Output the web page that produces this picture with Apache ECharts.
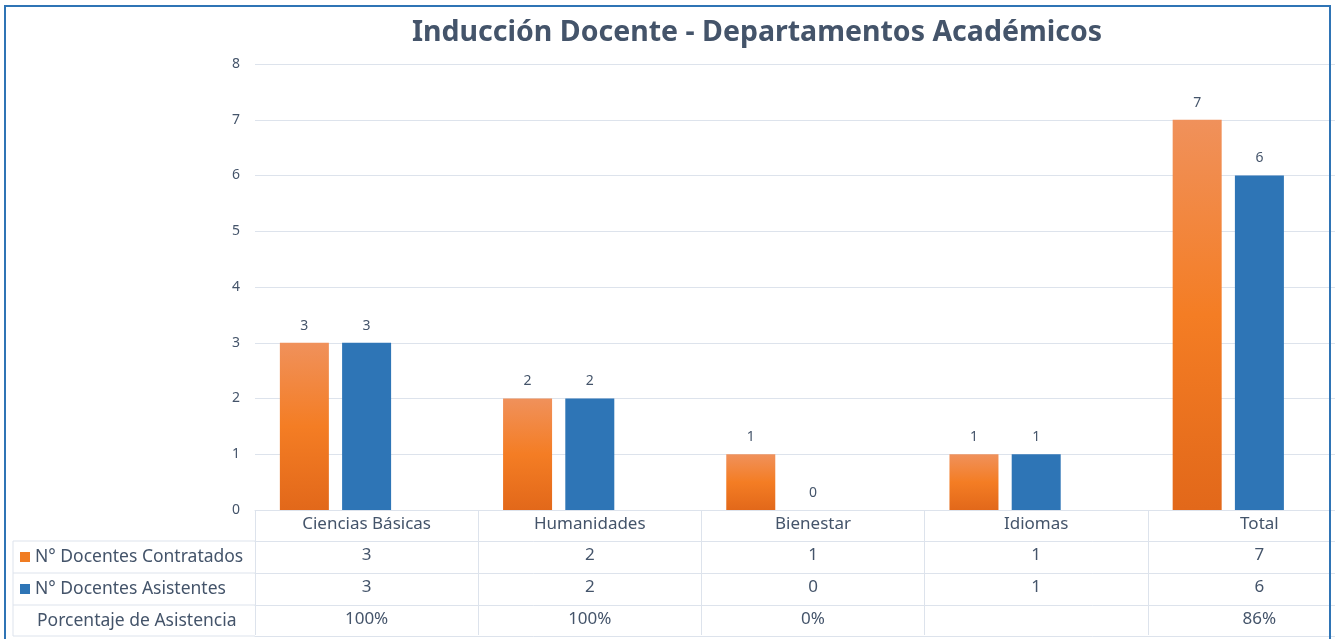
<!DOCTYPE html>
<html>
<head>
<meta charset="utf-8">
<title>Inducción Docente</title>
<script src="https://cdn.jsdelivr.net/npm/echarts@6/dist/echarts.min.js"></script>
<style>
  html, body { margin: 0; padding: 0; background: #fff; overflow: hidden; }
  /* el grafico original esta recortado a la derecha */
  #main { width: 1371px; height: 639px; }
</style>
</head>
<body>
<div id="main"></div>
<script>
// datos del grafico
const categorias = ['Ciencias Básicas', 'Humanidades', 'Bienestar', 'Idiomas', 'Total']
const contratados = [3, 2, 1, 1, 7]
const asistentes = [3, 2, 0, 1, 6]
const porcentaje = ['100%', '100%', '0%', '', '86%']
const filas = ['N° Docentes Contratados', 'N° Docentes Asistentes', 'Porcentaje de Asistencia']
const yTicks = [0, 1, 2, 3, 4, 5, 6, 7, 8]

const textColor = '#44546a'
const lineColor = '#dde3ec'
const naranja = new echarts.graphic.LinearGradient(0, 0, 0, 1, [
  { offset: 0, color: '#f0915b' },
  { offset: 0.5, color: '#f47d24' },
  { offset: 1, color: '#e2681a' }
])
const azul = '#2e75b6'
const font = 'Noto Sans'
const tablaFont = '17.5px "Noto Sans"'

// ejes extra para las filas de la tabla
function filaEje (offset, valores) {
  return {
    type: 'category',
    position: 'bottom',
    offset: offset,
    data: categorias,
    axisLine: { show: true, lineStyle: { color: lineColor, width: 1 } },
    axisTick: { show: false },
    axisLabel: {
      interval: 0,
      margin: 6,
      color: textColor,
      fontFamily: font,
      fontSize: 17,
      formatter: (v, i) => String(valores[i])
    }
  }
}

const chart = echarts.init(document.getElementById('main'))
chart.setOption({
  backgroundColor: '#ffffff',
  animation: false,
  title: {
    text: 'Inducción Docente - Departamentos Académicos',
    left: 752,
    textAlign: 'center',
    top: 13,
    textStyle: { color: textColor, fontFamily: font, fontSize: 28.5, fontWeight: 'bold' }
  },
  grid: { left: 255, right: 0, top: 64, bottom: 129 },
  yAxis: {
    type: 'value',
    min: yTicks[0],
    max: yTicks[yTicks.length - 1],
    interval: 1,
    axisLine: { show: false },
    axisTick: { show: false },
    axisLabel: { color: textColor, fontFamily: font, fontSize: 14, margin: 15 },
    splitLine: { lineStyle: { color: lineColor, width: 1 } }
  },
  xAxis: [
    {
      type: 'category',
      data: categorias,
      axisLine: { show: true, lineStyle: { color: lineColor, width: 1 } },
      axisTick: { show: true, interval: 0, length: 125, lineStyle: { color: lineColor } },
      axisLabel: { interval: 0, margin: 6, color: textColor, fontFamily: font, fontSize: 17 }
    },
    filaEje(31, contratados),
    filaEje(63, asistentes),
    filaEje(95, porcentaje),
    {
      type: 'category',
      position: 'bottom',
      offset: 126,
      data: categorias,
      axisLine: { show: true, lineStyle: { color: lineColor, width: 1 } },
      axisTick: { show: false },
      axisLabel: { show: false }
    }
  ],
  series: [
    {
      name: filas[0],
      type: 'bar',
      barWidth: 49,
      barGap: '27%',
      data: contratados,
      itemStyle: { color: naranja },
      label: { show: true, position: 'top', distance: 10, color: textColor, fontFamily: font, fontSize: 14 }
    },
    {
      name: filas[1],
      type: 'bar',
      barWidth: 49,
      data: asistentes,
      itemStyle: { color: azul },
      label: { show: true, position: 'top', distance: 10, color: textColor, fontFamily: font, fontSize: 14 }
    },
    {
      // el porcentaje no se dibuja como barra, pero ocupa su sitio
      name: filas[2],
      type: 'bar',
      barWidth: 49,
      data: porcentaje.map(() => null)
    }
  ],
  graphic: [
    // marco azul
    { type: 'rect', shape: { x: 5, y: 6, width: 1325, height: 640 }, style: { fill: 'none', stroke: '#2f74b5', lineWidth: 2 }, z: 100 },
    // columna de etiquetas de la tabla
    { type: 'line', shape: { x1: 13, y1: 541, x2: 255, y2: 541 }, style: { stroke: lineColor, lineWidth: 1 } },
    { type: 'line', shape: { x1: 13, y1: 573, x2: 255, y2: 573 }, style: { stroke: lineColor, lineWidth: 1 } },
    { type: 'line', shape: { x1: 13, y1: 605, x2: 255, y2: 605 }, style: { stroke: lineColor, lineWidth: 1 } },
    { type: 'line', shape: { x1: 13, y1: 636, x2: 255, y2: 636 }, style: { stroke: lineColor, lineWidth: 1 } },
    { type: 'line', shape: { x1: 13, y1: 541, x2: 13, y2: 636 }, style: { stroke: lineColor, lineWidth: 1 } },
    { type: 'rect', shape: { x: 20, y: 552, width: 10, height: 10 }, style: { fill: '#f07c22' } },
    { type: 'rect', shape: { x: 20, y: 584, width: 10, height: 10 }, style: { fill: azul } },
    { type: 'text', x: 35, y: 557, style: { text: filas[0], fill: textColor, font: tablaFont, verticalAlign: 'middle' } },
    { type: 'text', x: 35, y: 589, style: { text: filas[1], fill: textColor, font: tablaFont, verticalAlign: 'middle' } },
    { type: 'text', x: 37, y: 621, style: { text: filas[2], fill: textColor, font: tablaFont, verticalAlign: 'middle' } }
  ]
})
</script>
</body>
</html>
